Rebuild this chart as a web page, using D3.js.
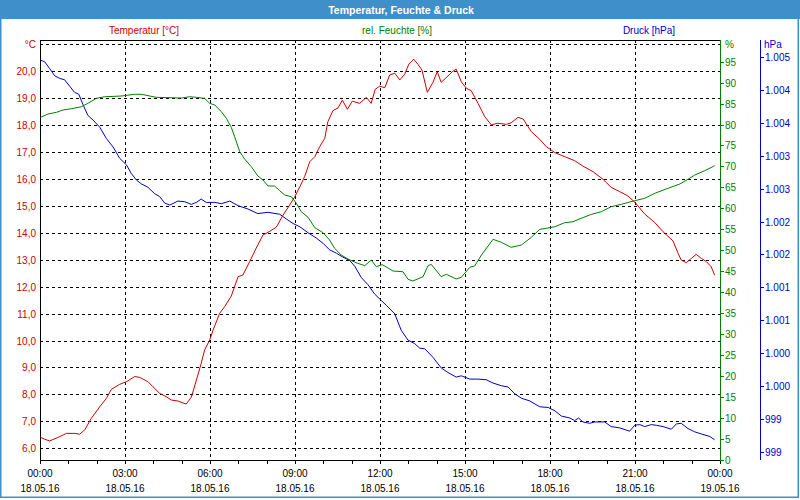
<!DOCTYPE html>
<html><head><meta charset="utf-8">
<script src="https://cdn.jsdelivr.net/npm/d3@7"></script>
<style>
body{margin:0;background:#fff;}
svg{display:block;font-family:"Liberation Sans",Arial,sans-serif;}
</style></head>
<body><svg id="c" width="800" height="500"></svg>
<script>
// ---- data (hours since 18.05.16 00:00, value) ----
const title = "Temperatur, Feuchte & Druck";
const seriesNames = ["Temperatur [°C]", "rel. Feuchte [%]", "Druck [hPa]"];
const xTickHours = [0,3,6,9,12,15,18,21,24];
const xTimeLabels = ["00:00","03:00","06:00","09:00","12:00","15:00","18:00","21:00","00:00"];
const xDateLabels = ["18.05.16","18.05.16","18.05.16","18.05.16","18.05.16","18.05.16","18.05.16","18.05.16","19.05.16"];
const tempTicks = [6,7,8,9,10,11,12,13,14,15,16,17,18,19,20];
const humTicks = [0,5,10,15,20,25,30,35,40,45,50,55,60,65,70,75,80,85,90,95];
const presTicks = [1004.6,1004.1,1003.6,1003.1,1002.6,1002.1,1001.6,1001.1,1000.6,1000.1,999.6,999.1,998.6];
const presTickLabels = ["1.005","1.004","1.004","1.003","1.003","1.002","1.002","1.001","1.001","1.000","1.000","999","999"];

const tempData = [[0.02,6.40],[0.17,6.33],[0.34,6.27],[0.64,6.40],[0.93,6.55],[1.22,6.55],[1.40,6.52],[1.58,6.68],[1.81,7.11],[2.11,7.54],[2.34,7.85],[2.52,8.19],[2.81,8.37],[3.05,8.47],[3.34,8.66],[3.52,8.63],[3.81,8.47],[3.99,8.28],[4.22,8.04],[4.46,7.91],[4.63,7.79],[4.87,7.75],[5.16,7.64],[5.34,7.89],[5.52,8.53],[5.69,9.15],[5.81,9.65],[5.99,10.02],[6.11,10.39],[6.34,11.01],[6.52,11.26],[6.75,11.65],[6.99,12.37],[7.16,12.43],[7.40,12.93],[7.63,13.43],[7.87,13.92],[8.05,14.02],[8.34,14.21],[8.58,14.66],[8.81,15.03],[8.99,15.34],[9.17,15.71],[9.34,16.09],[9.52,16.64],[9.70,16.83],[9.87,17.20],[10.05,17.51],[10.16,18.13],[10.34,18.54],[10.52,18.64],[10.67,18.93],[10.85,18.59],[11.02,18.89],[11.28,18.81],[11.52,19.03],[11.69,18.81],[11.83,19.33],[11.99,19.45],[12.17,19.39],[12.34,19.86],[12.52,19.93],[12.70,19.68],[12.87,19.89],[13.02,20.27],[13.19,20.45],[13.34,20.26],[13.48,20.05],[13.67,19.22],[13.87,19.59],[14.02,19.99],[14.16,19.59],[14.40,19.83],[14.58,20.01],[14.69,20.08],[14.87,19.61],[15.05,19.37],[15.22,19.28],[15.46,18.81],[15.70,18.31],[15.93,18.01],[16.16,18.07],[16.46,18.03],[16.63,18.09],[16.87,18.29],[17.05,18.23],[17.34,17.76],[17.64,17.47],[17.87,17.20],[18.17,16.98],[18.52,16.83],[18.87,16.68],[19.16,16.48],[19.52,16.27],[19.87,15.99],[20.16,15.69],[20.46,15.53],[20.75,15.37],[21.01,15.12],[21.34,14.70],[21.70,14.38],[21.99,14.04],[22.34,13.70],[22.52,13.24],[22.63,12.99],[22.81,12.89],[22.99,13.05],[23.16,13.20],[23.34,13.05],[23.52,12.93],[23.69,12.74],[23.81,12.43]];

const humData = [[0.02,81.71],[0.28,82.50],[0.58,82.90],[0.81,83.45],[1.10,83.76],[1.46,84.24],[1.69,85.05],[1.99,86.24],[2.28,86.62],[2.87,86.79],[3.34,87.20],[3.58,87.20],[4.10,86.48],[4.63,86.39],[4.99,86.31],[5.28,86.62],[5.52,86.48],[5.81,86.24],[5.99,85.05],[6.17,84.64],[6.40,83.05],[6.58,81.47],[6.75,79.33],[6.87,77.09],[7.05,73.51],[7.22,71.77],[7.46,69.93],[7.69,67.72],[7.87,66.76],[8.05,65.33],[8.28,65.33],[8.46,64.21],[8.64,63.19],[8.87,62.78],[9.05,61.21],[9.22,59.20],[9.46,57.87],[9.70,55.39],[9.99,54.20],[10.22,52.46],[10.40,50.48],[10.63,48.88],[10.87,47.93],[11.16,47.04],[11.46,46.33],[11.69,47.69],[11.87,46.09],[12.07,46.57],[12.17,46.26],[12.46,45.06],[12.81,44.90],[12.99,43.09],[13.16,42.68],[13.52,43.71],[13.69,46.26],[13.81,46.66],[14.16,43.71],[14.34,44.28],[14.69,43.16],[14.87,43.56],[15.17,45.95],[15.34,46.26],[15.58,48.88],[15.99,52.62],[16.28,51.91],[16.63,50.71],[16.99,51.26],[17.34,53.10],[17.64,55.01],[17.87,55.25],[18.17,55.63],[18.52,56.58],[18.81,56.82],[19.10,57.63],[19.46,58.58],[19.81,59.20],[20.16,60.40],[20.52,60.97],[20.99,61.83],[21.34,62.40],[21.70,63.59],[22.16,64.78],[22.58,65.81],[22.87,66.93],[23.11,67.95],[23.46,68.98],[23.81,70.17]];

const presData = [[0.02,1004.55],[0.17,1004.52],[0.34,1004.42],[0.52,1004.31],[0.70,1004.27],[0.87,1004.25],[1.05,1004.15],[1.22,1004.06],[1.37,1004.03],[1.52,1003.87],[1.69,1003.71],[1.87,1003.64],[2.11,1003.53],[2.34,1003.36],[2.58,1003.23],[2.81,1003.06],[3.05,1002.96],[3.22,1002.83],[3.40,1002.73],[3.58,1002.67],[3.81,1002.62],[4.05,1002.52],[4.22,1002.48],[4.40,1002.38],[4.58,1002.35],[4.87,1002.41],[5.11,1002.40],[5.34,1002.36],[5.52,1002.39],[5.69,1002.44],[5.87,1002.39],[6.17,1002.39],[6.40,1002.37],[6.70,1002.41],[6.99,1002.34],[7.34,1002.29],[7.69,1002.22],[8.05,1002.24],[8.46,1002.21],[8.69,1002.14],[8.93,1002.07],[9.17,1002.02],[9.46,1001.93],[9.75,1001.85],[9.99,1001.77],[10.22,1001.67],[10.46,1001.62],[10.69,1001.56],[10.93,1001.51],[11.11,1001.42],[11.34,1001.25],[11.58,1001.14],[11.81,1001.00],[12.05,1000.90],[12.22,1000.83],[12.52,1000.70],[12.75,1000.45],[12.99,1000.30],[13.22,1000.25],[13.40,1000.18],[13.58,1000.17],[13.87,1000.04],[14.16,999.88],[14.40,999.81],[14.69,999.74],[14.87,999.76],[15.17,999.71],[15.46,999.71],[15.75,999.70],[15.99,999.65],[16.28,999.61],[16.52,999.59],[16.75,999.49],[16.99,999.42],[17.28,999.38],[17.64,999.29],[17.93,999.28],[18.17,999.23],[18.40,999.15],[18.70,999.12],[18.87,999.08],[19.01,999.12],[19.16,999.06],[19.40,999.04],[19.58,999.06],[19.93,999.06],[20.16,998.99],[20.46,998.97],[20.81,998.92],[20.99,999.01],[21.17,999.02],[21.34,998.99],[21.58,999.02],[21.75,999.01],[21.99,998.99],[22.28,998.95],[22.46,999.03],[22.63,999.04],[22.87,998.96],[23.11,998.91],[23.40,998.87],[23.64,998.84],[23.81,998.79]];

// ---- layout ----
const W = 800, H = 500;
const L = 40, R = 720, T = 40, B = 460, PX = 760;
const cRed = "#cc0000", cGreen = "#008000", cBlue = "#0000cc", cFrame = "#3f8fca";

const svg = d3.select("#c");
const x = d3.scaleLinear().domain([0,24]).range([L,R]);
const yT = d3.scaleLinear().domain([5.561,21.163]).range([B,T]);
const yH = d3.scaleLinear().domain([0,100.15]).range([B,T]);
const yP = d3.scaleLinear().domain([998.483,1004.853]).range([B,T]);
const px = v => Math.round(v) + 0.5;

svg.append("rect").attr("x",0).attr("y",0).attr("width",W).attr("height",H).attr("fill","#fff");
svg.append("rect").attr("x",0).attr("y",0).attr("width",W).attr("height",19).attr("fill",cFrame);
svg.append("rect").attr("x",0.75).attr("y",0.75).attr("width",797.5).attr("height",496.5)
  .attr("fill","none").attr("stroke",cFrame).attr("stroke-width",1.5);
svg.append("text").attr("x",401).attr("y",9.5).attr("text-anchor","middle").attr("dominant-baseline","central")
  .attr("fill","#fff").attr("font-weight","bold").attr("font-size","10.5px").text(title);

// series header labels
const headX = [144, 397, 649], headC = [cRed, cGreen, cBlue];
seriesNames.forEach((n,i)=> svg.append("text").attr("x",headX[i]).attr("y",30).attr("text-anchor","middle")
  .attr("dominant-baseline","central").attr("font-size","10px").attr("fill",headC[i]).text(n));

// grid
const g = svg.append("g").attr("shape-rendering","crispEdges");
[21].concat(tempTicks).forEach(t => g.append("line").attr("x1",L).attr("x2",R).attr("y1",px(yT(t))).attr("y2",px(yT(t)))
  .attr("stroke","#000").attr("stroke-dasharray","3,3"));
xTickHours.slice(1,-1).forEach(h => g.append("line").attr("x1",px(x(h))).attr("x2",px(x(h))).attr("y1",T).attr("y2",B)
  .attr("stroke","#000").attr("stroke-dasharray","3,3"));

// frame
g.append("line").attr("x1",L).attr("x2",R).attr("y1",T+0.5).attr("y2",T+0.5).attr("stroke","#000");
g.append("line").attr("x1",L+0.5).attr("x2",L+0.5).attr("y1",T).attr("y2",B+1).attr("stroke","#000");
g.append("line").attr("x1",L).attr("x2",R).attr("y1",B+0.5).attr("y2",B+0.5).attr("stroke","#000");

// bottom axis ticks (hourly)
d3.range(0,25).forEach(h => g.append("line").attr("x1",px(x(h))).attr("x2",px(x(h))).attr("y1",B).attr("y2",B+4).attr("stroke","#000"));
xTickHours.forEach((h,i) => {
  svg.append("text").attr("x",x(h)).attr("y",473).attr("text-anchor","middle").attr("dominant-baseline","central")
    .attr("font-size","10px").attr("fill","#000").text(xTimeLabels[i]);
  svg.append("text").attr("x",x(h)).attr("y",488).attr("text-anchor","middle").attr("dominant-baseline","central")
    .attr("font-size","10px").attr("fill","#000").text(xDateLabels[i]);
});

// left temperature labels
const fmtT = d3.formatLocale({decimal:",",thousands:".",grouping:[3],currency:["","€"]}).format(".1f");
tempTicks.forEach(t => svg.append("text").attr("x",36).attr("y",yT(t)+0.5).attr("text-anchor","end").attr("dominant-baseline","central")
  .attr("font-size","10px").attr("fill",cRed).text(fmtT(t)));
svg.append("text").attr("x",36).attr("y",yT(21)+0.5).attr("text-anchor","end").attr("dominant-baseline","central")
  .attr("font-size","10px").attr("fill",cRed).text("°C");

// humidity axis (green)
g.append("line").attr("x1",R+0.5).attr("x2",R+0.5).attr("y1",T).attr("y2",B+1).attr("stroke",cGreen);
humTicks.forEach(v => {
  g.append("line").attr("x1",R).attr("x2",R+4).attr("y1",px(yH(v))).attr("y2",px(yH(v))).attr("stroke",cGreen);
  svg.append("text").attr("x",R+5).attr("y",yH(v)+0.5).attr("dominant-baseline","central")
    .attr("font-size","10px").attr("fill",cGreen).text(v);
});
svg.append("text").attr("x",R+5).attr("y",yT(21)+0.5).attr("dominant-baseline","central")
  .attr("font-size","10px").attr("fill",cGreen).text("%");

// pressure axis (blue)
g.append("line").attr("x1",PX+0.5).attr("x2",PX+0.5).attr("y1",T).attr("y2",B).attr("stroke",cBlue);
presTicks.forEach((v,i) => {
  g.append("line").attr("x1",PX).attr("x2",PX+4).attr("y1",px(yP(v))).attr("y2",px(yP(v))).attr("stroke",cBlue);
  svg.append("text").attr("x",PX+5).attr("y",yP(v)+0.5).attr("dominant-baseline","central")
    .attr("font-size","10px").attr("fill",cBlue).text(presTickLabels[i]);
});
svg.append("text").attr("x",PX+4).attr("y",yT(21)+0.5).attr("dominant-baseline","central")
  .attr("font-size","10px").attr("fill",cBlue).text("hPa");

// series lines
const line = ys => d3.line().x(d=>x(d[0])).y(d=>ys(d[1]));
svg.append("path").datum(presData).attr("d",line(yP)).attr("fill","none").attr("stroke",cBlue).attr("stroke-width",1);
svg.append("path").datum(humData).attr("d",line(yH)).attr("fill","none").attr("stroke",cGreen).attr("stroke-width",1);
svg.append("path").datum(tempData).attr("d",line(yT)).attr("fill","none").attr("stroke",cRed).attr("stroke-width",1);
</script></body></html>
